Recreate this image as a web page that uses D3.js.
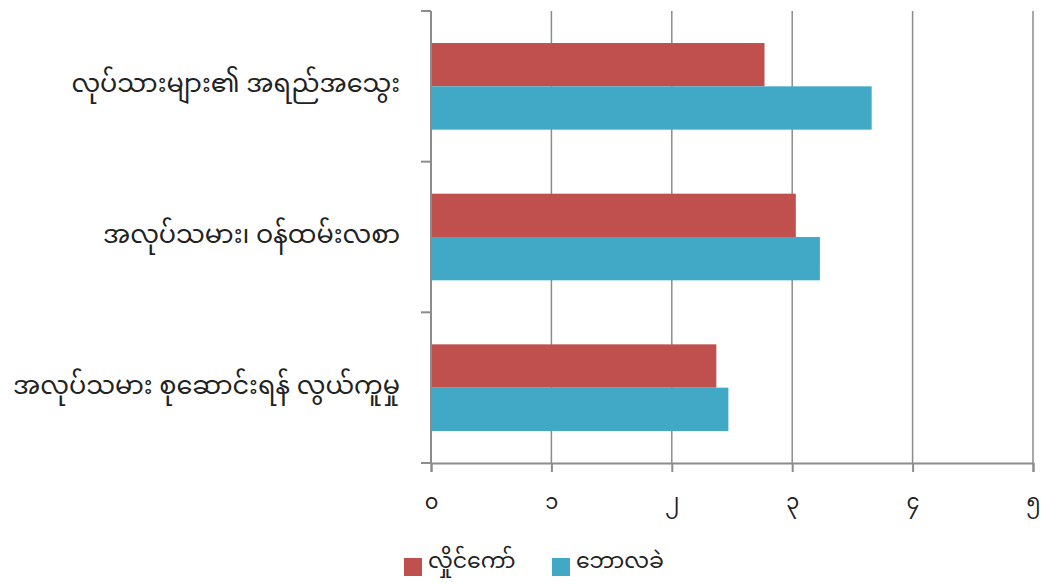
<!DOCTYPE html>
<html><head><meta charset="utf-8">
<script src="https://cdn.jsdelivr.net/npm/d3@7"></script>
<style>
body{margin:0;background:#fff;}
text{font-family:"Noto Sans Myanmar","Padauk","Myanmar Text","Noto Sans",sans-serif;fill:#222;}
</style></head>
<body><svg id="c" width="1049" height="584"></svg>
<script>
const categories = ["လုပ်သားများ၏ အရည်အသွေး","အလုပ်သမား၊ ဝန်ထမ်းလစာ","အလုပ်သမား စုဆောင်းရန် လွယ်ကူမှု"];
const seriesNames = ["လှိုင်ကော်","ဘောလခဲ"];
const hlaingKaw = [2.77, 3.03, 2.37];
const bawlakhe = [3.66, 3.23, 2.47];
const tickValues = [0,1,2,3,4,5];
const tickLabels = ["၀","၁","၂","၃","၄","၅"];
const colors = ["#C0504D","#41A9C6"];

const svg = d3.select("#c");
const mL=431, mR=1033, mT=11, mB=463;
const x = d3.scaleLinear().domain([0,5]).range([mL,mR]);
const y = d3.scaleBand().domain(categories).range([mT,mB]).paddingInner(0.425).paddingOuter(0.2125);
const ySub = d3.scaleBand().domain(seriesNames).range([0,y.bandwidth()]);

// gridlines
svg.append("g").selectAll("line").data(tickValues).join("line")
 .attr("x1",d=>x(d)).attr("x2",d=>x(d)).attr("y1",mT).attr("y2",mB)
 .attr("stroke","#8c8c8c").attr("stroke-width",1.5);

const series=[hlaingKaw,bawlakhe];
series.forEach((vals,si)=>{
  svg.append("g").selectAll("rect").data(vals).join("rect")
   .attr("x",x(0)).attr("y",(d,i)=>y(categories[i])+ySub(seriesNames[si]))
   .attr("width",d=>x(d)-x(0)).attr("height",ySub.bandwidth())
   .attr("fill",colors[si]);
});

// bottom axis
const xAxis = d3.axisBottom(x).tickValues(tickValues).tickFormat((d,i)=>tickLabels[i]).tickSize(9).tickPadding(22);
const gx = svg.append("g").attr("transform",`translate(0,${mB})`).call(xAxis);
gx.select(".domain").attr("stroke","#8c8c8c").attr("stroke-width",2);
gx.selectAll(".tick line").attr("stroke","#8c8c8c").attr("stroke-width",2);
gx.selectAll(".tick text").attr("font-size",21).style("fill","#222");

// left axis: ticks at band boundaries
const yBounds = [0,1,2,3].map(i=>mT+i*(mB-mT)/3);
svg.append("line").attr("x1",mL).attr("x2",mL).attr("y1",mT).attr("y2",mB).attr("stroke","#8c8c8c").attr("stroke-width",2);
svg.append("g").selectAll("line").data(yBounds).join("line")
 .attr("x1",mL-10).attr("x2",mL).attr("y1",d=>d).attr("y2",d=>d)
 .attr("stroke","#8c8c8c").attr("stroke-width",2);
svg.append("g").selectAll("text").data(categories).join("text")
 .attr("x",400).attr("y",d=>y(d)+y.bandwidth()/2).attr("text-anchor","end")
 .attr("dominant-baseline","central").attr("font-size",25.5).text(d=>d);

// legend
const lg = svg.append("g").attr("transform","translate(404,558)");
const items=[{n:seriesNames[0],c:colors[0],x:0},{n:seriesNames[1],c:colors[1],x:148}];
items.forEach(it=>{
  lg.append("rect").attr("x",it.x).attr("y",0).attr("width",18).attr("height",18).attr("fill",it.c);
  lg.append("text").attr("x",it.x+24).attr("y",5).attr("dominant-baseline","central").attr("font-size",22).text(it.n);
});
</script></body></html>
